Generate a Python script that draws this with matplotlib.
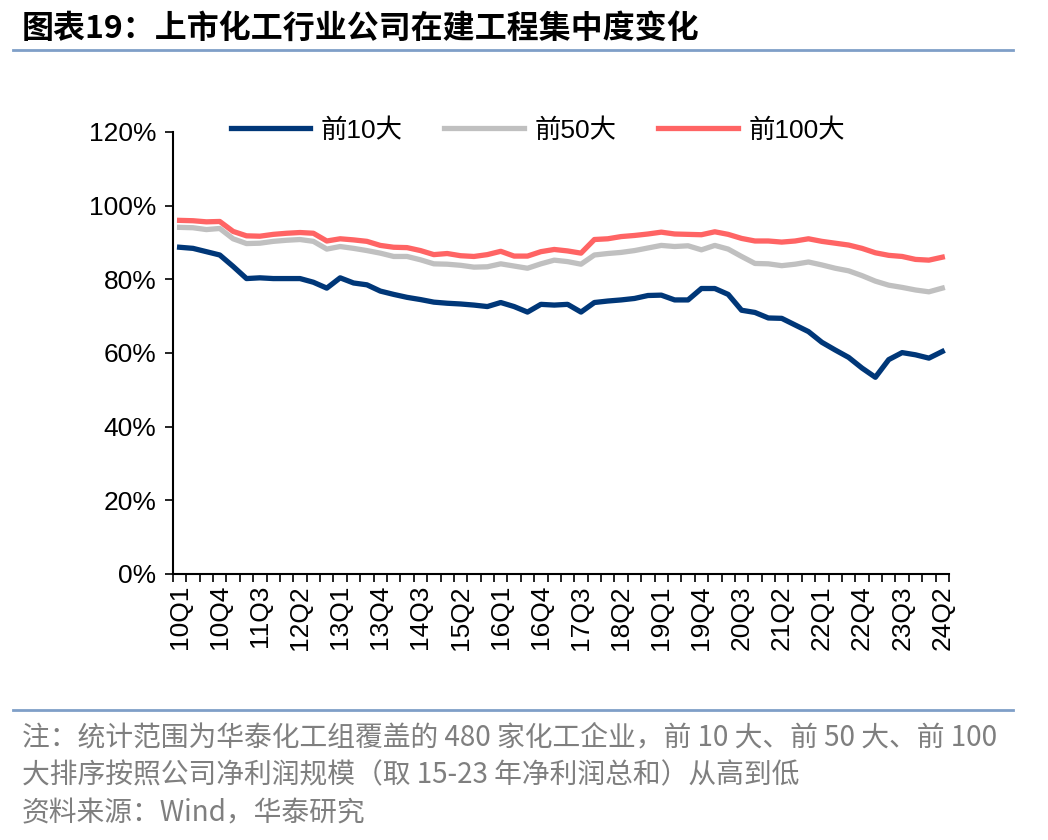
import numpy as np
import matplotlib
matplotlib.use("Agg")
import matplotlib.pyplot as plt
from matplotlib.lines import Line2D

plt.rcParams['font.family'] = ['Liberation Sans', 'Noto Sans CJK SC', 'DejaVu Sans']

# quarters 10Q1 .. 24Q2
quarters = [f"{y}Q{q}" for y in range(10, 25) for q in range(1, 5)][:58]

top10 = [88.7, 88.4, 87.5, 86.6, 83.5, 80.2, 80.4, 80.2, 80.2, 80.2,
         79.2, 77.6, 80.4, 79.0, 78.5, 76.8, 75.9, 75.1, 74.5, 73.8,
         73.5, 73.3, 73.0, 72.6, 73.7, 72.6, 71.1, 73.2, 73.0, 73.2,
         71.1, 73.7, 74.1, 74.4, 74.8, 75.6, 75.7, 74.4, 74.4, 77.5,
         77.5, 75.9, 71.6, 71.0, 69.5, 69.4, 67.6, 65.8, 62.9, 60.8,
         58.8, 55.9, 53.4, 58.2, 60.1, 59.5, 58.6, 60.4]
top50 = [94.1, 94.0, 93.5, 93.8, 91.0, 89.7, 89.8, 90.3, 90.6, 90.8,
         90.3, 88.2, 88.9, 88.4, 87.8, 87.1, 86.2, 86.2, 85.3, 84.2,
         84.1, 83.8, 83.3, 83.4, 84.2, 83.6, 83.0, 84.2, 85.2, 84.8,
         84.1, 86.6, 87.0, 87.3, 87.8, 88.5, 89.2, 88.9, 89.1, 88.0,
         89.2, 88.2, 86.2, 84.3, 84.2, 83.7, 84.1, 84.7, 83.9, 83.0,
         82.3, 81.0, 79.5, 78.4, 77.8, 77.1, 76.6, 77.6]
top100 = [96.0, 95.9, 95.6, 95.7, 93.0, 91.8, 91.7, 92.2, 92.5, 92.7,
          92.5, 90.4, 91.0, 90.7, 90.3, 89.2, 88.7, 88.6, 87.8, 86.7,
          87.0, 86.4, 86.2, 86.7, 87.6, 86.3, 86.3, 87.5, 88.1, 87.7,
          87.1, 90.8, 91.0, 91.6, 91.9, 92.3, 92.8, 92.3, 92.2, 92.1,
          92.9, 92.2, 91.1, 90.4, 90.4, 90.1, 90.4, 91.0, 90.3, 89.8,
          89.3, 88.4, 87.2, 86.5, 86.2, 85.4, 85.2, 86.0]

series_names = ["前10大", "前50大", "前100大"]
colors = ["#003778", "#C0C0C0", "#FF6464"]

title = "图表19：上市化工行业公司在建工程集中度变化"
notes = ["注：统计范围为华泰化工组覆盖的 480 家化工企业，前 10 大、前 50 大、前 100",
         "大排序按照公司净利润规模（取 15-23 年净利润总和）从高到低",
         "资料来源：Wind，华泰研究"]

fig = plt.figure(figsize=(10.48, 8.4), dpi=100)
ax = fig.add_axes([0.165, 0.3167, 0.7405, 0.5262])

x = np.arange(len(quarters))
for vals, c, name in zip([top10, top50, top100], colors, series_names):
    ax.plot(x, vals, color=c, lw=3.8, label=name, solid_joinstyle='round')

ax.set_xlim(-0.5, len(quarters) - 0.5)
ax.set_ylim(0, 120)
ax.set_yticks(np.arange(0, 121, 20))
ax.set_yticklabels([f"{v}%" for v in range(0, 121, 20)], fontsize=19)
ax.set_xticks(x[::3])
ax.set_xticklabels(quarters[::3], rotation=90, fontsize=19)
ax.set_xticks(np.arange(-0.5, len(quarters), 1), minor=True)
ax.tick_params(axis='x', which='major', length=0, pad=8)
ax.tick_params(axis='x', which='minor', length=6, width=1.2, direction='out')
ax.tick_params(axis='y', length=6, width=1.2, direction='out', pad=6)
for s in ['top', 'right']:
    ax.spines[s].set_visible(False)
for s in ['left', 'bottom']:
    ax.spines[s].set_linewidth(1.5)

leg = fig.legend(handles=ax.get_lines(), labels=series_names, loc='center',
                 bbox_to_anchor=(0.513, 0.845), ncol=3, frameon=False,
                 handlelength=3.0, handletextpad=0.4, columnspacing=1.6,
                 prop={'family': ['Liberation Sans', 'Noto Sans CJK SC'], 'size': 19})

fig.text(0.021, 0.966, title, fontsize=23, fontweight='bold', va='center',
         family=['Noto Sans CJK SC', 'DejaVu Sans'])
fig.add_artist(Line2D([0.012, 0.967], [0.940, 0.940], color='#7F9FC8', lw=2))
fig.add_artist(Line2D([0.012, 0.967], [0.155, 0.155], color='#7F9FC8', lw=2))
for i, t in enumerate(notes):
    fig.text(0.021, 0.122 - i * 0.045, t, fontsize=20, color='#7F7F7F', va='center',
             family=['Noto Sans CJK SC', 'DejaVu Sans'])

fig.savefig("out.png", dpi=100)
